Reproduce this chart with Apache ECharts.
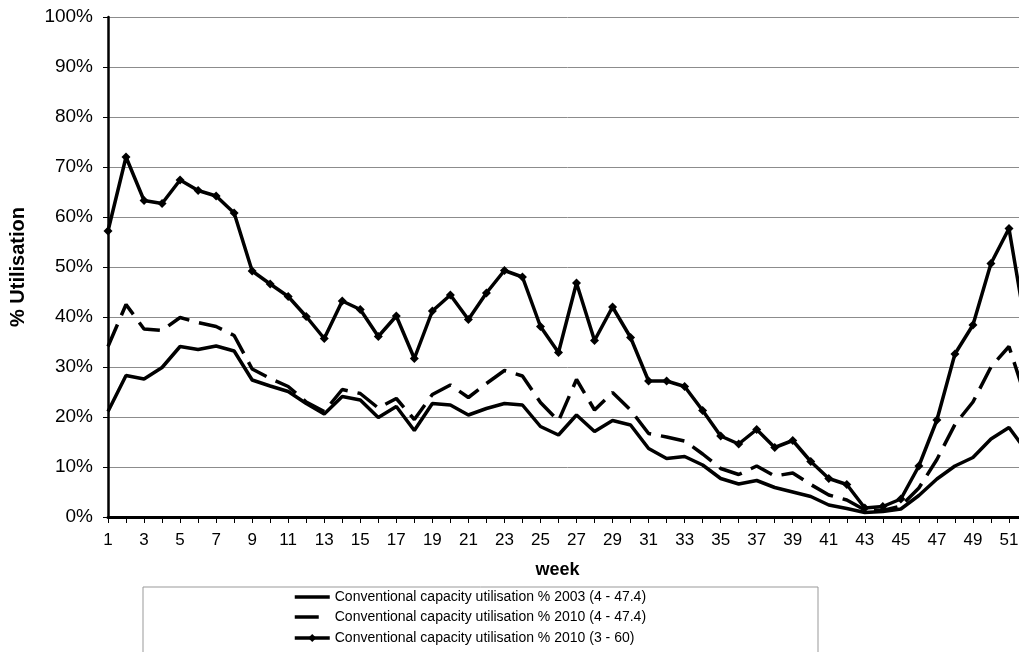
<!DOCTYPE html>
<html><head><meta charset="utf-8">
<script src="https://cdn.jsdelivr.net/npm/echarts@6/dist/echarts.min.js"></script>
<style>html,body{margin:0;padding:0;background:#fff;overflow:hidden;width:1019px;height:652px}#c{width:1027px;height:652px}</style>
</head><body><div id="c"></div>
<script>
const weeks = ['1','2','3','4','5','6','7','8','9','10','11','12','13','14','15','16','17','18','19','20','21','22','23','24','25','26','27','28','29','30','31','32','33','34','35','36','37','38','39','40','41','42','43','44','45','46','47','48','49','50','51','52'];
const util2003 = [21.1,28.3,27.6,29.9,34.1,33.5,34.2,33.2,27.4,26.2,25.1,22.7,20.6,24.1,23.4,19.9,22.1,17.3,22.7,22.4,20.4,21.7,22.7,22.4,18.1,16.4,20.4,17.1,19.3,18.4,13.7,11.7,12.1,10.4,7.7,6.6,7.3,5.9,5.0,4.1,2.4,1.7,0.9,1.1,1.6,4.3,7.6,10.2,11.9,15.6,17.9,13.0];
const util2010a = [34.1,42.5,37.6,37.3,39.9,38.9,38.1,36.3,29.6,27.7,26.1,23.0,21.1,25.5,24.7,21.8,23.7,19.5,24.5,26.4,23.9,26.7,29.3,28.2,22.9,19.2,27.5,21.4,24.9,21.4,16.7,16.0,15.2,12.6,9.7,8.5,10.2,8.2,8.8,6.5,4.4,3.4,1.4,1.3,2.2,5.8,11.5,18.5,23.0,30.0,34.1,23.0];
const util2010b = [57.2,72.0,63.3,62.7,67.4,65.3,64.2,60.8,49.2,46.6,44.1,40.1,35.7,43.2,41.5,36.1,40.2,31.7,41.2,44.4,39.5,44.8,49.3,48.0,38.1,32.9,46.8,35.3,42.0,35.9,27.2,27.2,26.1,21.3,16.2,14.6,17.5,13.9,15.3,11.1,7.7,6.5,1.8,2.1,3.6,10.2,19.4,32.6,38.4,50.7,57.7,36.5];
const seriesNames = ['Conventional capacity utilisation % 2003 (4 - 47.4)','Conventional capacity utilisation % 2010 (4 - 47.4)','Conventional capacity utilisation % 2010 (3 - 60)'];
const yAxisTitle = '% Utilisation';
const xAxisTitle = 'week';

const chart = echarts.init(document.getElementById('c'), null, {renderer:'canvas'});
const font = 'Liberation Sans, Arial, sans-serif';
function legendRow(i, top){
  return {
    orient:'horizontal', left:293, top:top, padding:0, itemWidth:35, itemHeight:10, itemGap:0,
    textStyle:{fontSize:14,color:'#000',fontFamily:font},
    lineStyle: i === 1 ? {width:3.5, type:[24,20]} : {width:3.5},
    data:[i < 2 ? {name:seriesNames[i], itemStyle:{opacity:0}} : {name:seriesNames[i]}]
  };
}
chart.setOption({
  animation:false,
  backgroundColor:'#fff',
  textStyle:{fontFamily:font,color:'#000'},
  grid:{left:108, top:17, bottom:135, right:0, containLabel:false},
  xAxis:{
    type:'category', data:weeks, boundaryGap:false,
    name:xAxisTitle, nameLocation:'middle', nameGap:44,
    nameTextStyle:{fontFamily:font,fontSize:18,fontWeight:'bold',color:'#000',padding:[0,20,0,0]},
    axisLine:{lineStyle:{color:'#000',width:3}},
    axisTick:{show:true,interval:0,length:6,lineStyle:{color:'#000',width:1}},
    axisLabel:{interval:1,color:'#000',fontSize:17,fontFamily:font,margin:15},
    splitLine:{show:false}
  },
  yAxis:{
    type:'value', min:0, max:100, interval:10,
    name:yAxisTitle, nameLocation:'middle', nameGap:80, nameRotate:90,
    nameTextStyle:{fontFamily:font,fontSize:20,fontWeight:'bold',color:'#000'},
    axisLine:{show:true,lineStyle:{color:'#000',width:2.5}},
    axisTick:{show:true,length:5,lineStyle:{color:'#000',width:1}},
    axisLabel:{formatter:'{value}%',color:'#000',fontSize:19,fontFamily:font,margin:15},
    splitLine:{show:true,lineStyle:{color:'#8c8c8c',width:1}}
  },
  legend:[legendRow(0,590),legendRow(1,610),legendRow(2,631)],
  graphic:[{type:'rect',z:-1,shape:{x:143,y:587,width:675,height:70},style:{fill:'#fff',stroke:'#999',lineWidth:1}}],
  series:[
    {name:seriesNames[0],type:'line',data:util2003,symbol:'none',color:'#000',lineStyle:{color:'#000',width:3.5}},
    {name:seriesNames[1],type:'line',data:util2010a,symbol:'none',color:'#000',lineStyle:{color:'#000',width:3.5,type:[24,10]}},
    {name:seriesNames[2],type:'line',data:util2010b,symbol:'diamond',symbolSize:9,color:'#000',itemStyle:{color:'#000'},lineStyle:{color:'#000',width:3.5}}
  ]
});
</script></body></html>
